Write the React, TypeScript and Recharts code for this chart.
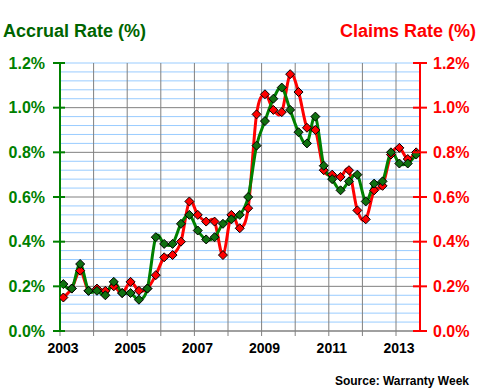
import React from "react";
import { LineChart, Line, XAxis, YAxis, CartesianGrid } from "recharts";

// ---------- data ----------
const quarters = [
  "2003 Q1", "2003 Q2", "2003 Q3", "2003 Q4",
  "2004 Q1", "2004 Q2", "2004 Q3", "2004 Q4",
  "2005 Q1", "2005 Q2", "2005 Q3", "2005 Q4",
  "2006 Q1", "2006 Q2", "2006 Q3", "2006 Q4",
  "2007 Q1", "2007 Q2", "2007 Q3", "2007 Q4",
  "2008 Q1", "2008 Q2", "2008 Q3", "2008 Q4",
  "2009 Q1", "2009 Q2", "2009 Q3", "2009 Q4",
  "2010 Q1", "2010 Q2", "2010 Q3", "2010 Q4",
  "2011 Q1", "2011 Q2", "2011 Q3", "2011 Q4",
  "2012 Q1", "2012 Q2", "2012 Q3", "2012 Q4",
  "2013 Q1", "2013 Q2", "2013 Q3",
];

const accrualRate = [
  0.21, 0.19, 0.30, 0.18, 0.18, 0.16, 0.22, 0.17, 0.17, 0.14,
  0.19, 0.42, 0.39, 0.39, 0.48, 0.52, 0.45, 0.41, 0.42, 0.48,
  0.50, 0.52, 0.60, 0.83, 0.94, 1.04, 1.09, 0.99, 0.89, 0.84,
  0.96, 0.74, 0.68, 0.63, 0.67, 0.70, 0.58, 0.66, 0.67, 0.80,
  0.75, 0.75, 0.79,
];

const claimsRate = [
  0.15, 0.19, 0.27, 0.18, 0.19, 0.18, 0.20, 0.17, 0.22, 0.18,
  0.19, 0.25, 0.33, 0.34, 0.40, 0.58, 0.52, 0.49, 0.49, 0.34,
  0.52, 0.46, 0.55, 0.97, 1.06, 0.99, 0.98, 1.15, 1.07, 0.91,
  0.90, 0.72, 0.70, 0.69, 0.72, 0.54, 0.50, 0.63, 0.65, 0.79,
  0.82, 0.77, 0.80,
];

const yearTicks = [2003, 2004, 2005, 2006, 2007, 2008, 2009, 2010, 2011, 2012, 2013];
const yearLabels = ["2003", "", "2005", "", "2007", "", "2009", "", "2011", "", "2013"];
const rateTicks = [0, 0.2, 0.4, 0.6, 0.8, 1.0, 1.2];

// ---------- layout / style ----------
const W = 480;
const H = 390;
const PL = 60;
const PR = 420;
const PT = 63;
const PB = 331;
const FONT = "'Liberation Sans', Arial, Helvetica, sans-serif";
const GREEN = "#008000";
const DARK_GREEN = "#006400";
const RED = "#FF0000";
const GRID_BLUE = "#99CCFF";
const GRID_GRAY = "#808080";

const data = quarters.map((q, i) => {
  const [y, qq] = q.split(" Q");
  return {
    quarter: q,
    t: Number(y) + (Number(qq) - 1) / 4 + 0.1,
    accrual: accrualRate[i],
    claims: claimsRate[i],
  };
});

const minorValues: number[] = [];
for (let k = 1; k <= 30; k++) {
  if (k % 5 !== 0 || k === 30) minorValues.push(+(k * 0.04).toFixed(2));
}
const majorValues = rateTicks.filter((v) => v > 0 && v < 1.2);
const verticalValues = yearTicks.filter((v) => v > 2003);

// Excel-like smooth curve (Catmull-Rom through points)
const smoothCurve: any = (context: any) => {
  let pts: number[][] = [];
  return {
    areaStart() {},
    areaEnd() {},
    lineStart() {
      pts = [];
    },
    lineEnd() {
      const n = pts.length;
      if (!n) return;
      context.moveTo(pts[0][0], pts[0][1]);
      if (n === 2) {
        context.lineTo(pts[1][0], pts[1][1]);
        return;
      }
      for (let i = 0; i < n - 1; i++) {
        const p0 = pts[i - 1] || pts[i];
        const p1 = pts[i];
        const p2 = pts[i + 1];
        const p3 = pts[i + 2] || pts[i + 1];
        const c1x = p1[0] + (p2[0] - p0[0]) / 6;
        const c1y = p1[1] + (p2[1] - p0[1]) / 6;
        const c2x = p2[0] - (p3[0] - p1[0]) / 6;
        const c2y = p2[1] - (p3[1] - p1[1]) / 6;
        context.bezierCurveTo(c1x, c1y, c2x, c2y, p2[0], p2[1]);
      }
    },
    point(x: number, y: number) {
      pts.push([+x, +y]);
    },
  };
};

const diamond = (fill: string) => (props: any) => {
  const { cx, cy, index } = props;
  if (cx == null || cy == null) return <g key={index} />;
  const r = 4.5;
  return (
    <polygon
      key={index}
      points={`${cx},${cy - r} ${cx + r},${cy} ${cx},${cy + r} ${cx - r},${cy}`}
      fill={fill}
      stroke="#000"
      strokeWidth={1}
    />
  );
};

const fmt = (v: number) => `${v.toFixed(1)}%`;

const LeftTick = (props: any) => {
  const { y, payload } = props;
  return (
    <g>
      <line x1={PL - 7} x2={PL + 5} y1={y} y2={y} stroke={GREEN} strokeWidth={2} />
      <text x={45} y={y} dy="0.36em" textAnchor="end" fill={GREEN} fontSize={16} fontWeight="bold" fontFamily={FONT}>
        {fmt(payload.value)}
      </text>
    </g>
  );
};

const RightTick = (props: any) => {
  const { y, payload } = props;
  return (
    <g>
      <line x1={PR - 7} x2={PR + 7} y1={y} y2={y} stroke={RED} strokeWidth={2} />
      <text x={433} y={y} dy="0.36em" textAnchor="start" fill={RED} fontSize={16} fontWeight="bold" fontFamily={FONT}>
        {fmt(payload.value)}
      </text>
    </g>
  );
};

const BottomTick = (props: any) => {
  const { x, payload, index } = props;
  const label = yearLabels[yearTicks.indexOf(payload.value)] ?? "";
  return (
    <g key={index}>
      <line x1={x} x2={x} y1={PB} y2={PB + 5} stroke={GRID_GRAY} strokeWidth={1} />
      {label ? (
        <text x={x + 3} y={353} textAnchor="middle" fill="#000" fontSize={14} fontWeight="bold" fontFamily={FONT}>
          {label}
        </text>
      ) : null}
    </g>
  );
};

export default function App() {
  return (
    <div style={{ position: "absolute", left: 0, top: 0, width: W, height: H, background: "#fff" }}>
      <LineChart
        width={W}
        height={H}
        data={data}
        margin={{ top: PT, right: 0, bottom: 29, left: 0 }}
      >
        <CartesianGrid
          yAxisId="left"
          horizontalValues={minorValues}
          vertical={false}
          stroke={GRID_BLUE}
          strokeWidth={1}
        />
        <CartesianGrid
          yAxisId="left"
          horizontalValues={majorValues}
          verticalValues={verticalValues}
          stroke={GRID_GRAY}
          strokeWidth={1}
        />
        <XAxis
          dataKey="t"
          type="number"
          domain={[2003, 2013 + (PR - 396) / 33.6]}
          ticks={yearTicks}
          interval={0}
          height={30}
          axisLine={{ stroke: GRID_GRAY, strokeWidth: 1.5 }}
          tickLine={false}
          tick={BottomTick}
          allowDataOverflow
        />
        <YAxis
          yAxisId="left"
          orientation="left"
          domain={[0, 1.2]}
          ticks={rateTicks}
          interval={0}
          width={PL}
          axisLine={{ stroke: GREEN, strokeWidth: 2 }}
          tickLine={false}
          tick={LeftTick}
          allowDataOverflow
        />
        <YAxis
          yAxisId="right"
          orientation="right"
          domain={[0, 1.2]}
          ticks={rateTicks}
          interval={0}
          width={W - PR}
          axisLine={{ stroke: RED, strokeWidth: 2 }}
          tickLine={false}
          tick={RightTick}
          allowDataOverflow
        />
        <Line
          yAxisId="right"
          dataKey="claims"
          type={smoothCurve}
          stroke={RED}
          strokeWidth={3}
          dot={diamond(RED)}
          activeDot={false}
          isAnimationActive={false}
        />
        <Line
          yAxisId="left"
          dataKey="accrual"
          type={smoothCurve}
          stroke={GREEN}
          strokeWidth={3}
          dot={diamond("#107010")}
          activeDot={false}
          isAnimationActive={false}
        />
      </LineChart>
      <svg
        width={W}
        height={H}
        style={{ position: "absolute", left: 0, top: 0, pointerEvents: "none" }}
      >
        <text x={3} y={37} fontSize={18} fontWeight="bold" fontFamily={FONT} fill={DARK_GREEN}>
          Accrual Rate (%)
        </text>
        <text x={476} y={37} textAnchor="end" fontSize={18} fontWeight="bold" fontFamily={FONT} fill={RED}>
          Claims Rate (%)
        </text>
        <text x={469} y={385} textAnchor="end" fontSize={12} fontWeight="bold" fontFamily={FONT} fill="#000">
          Source: Warranty Week
        </text>
      </svg>
    </div>
  );
}
